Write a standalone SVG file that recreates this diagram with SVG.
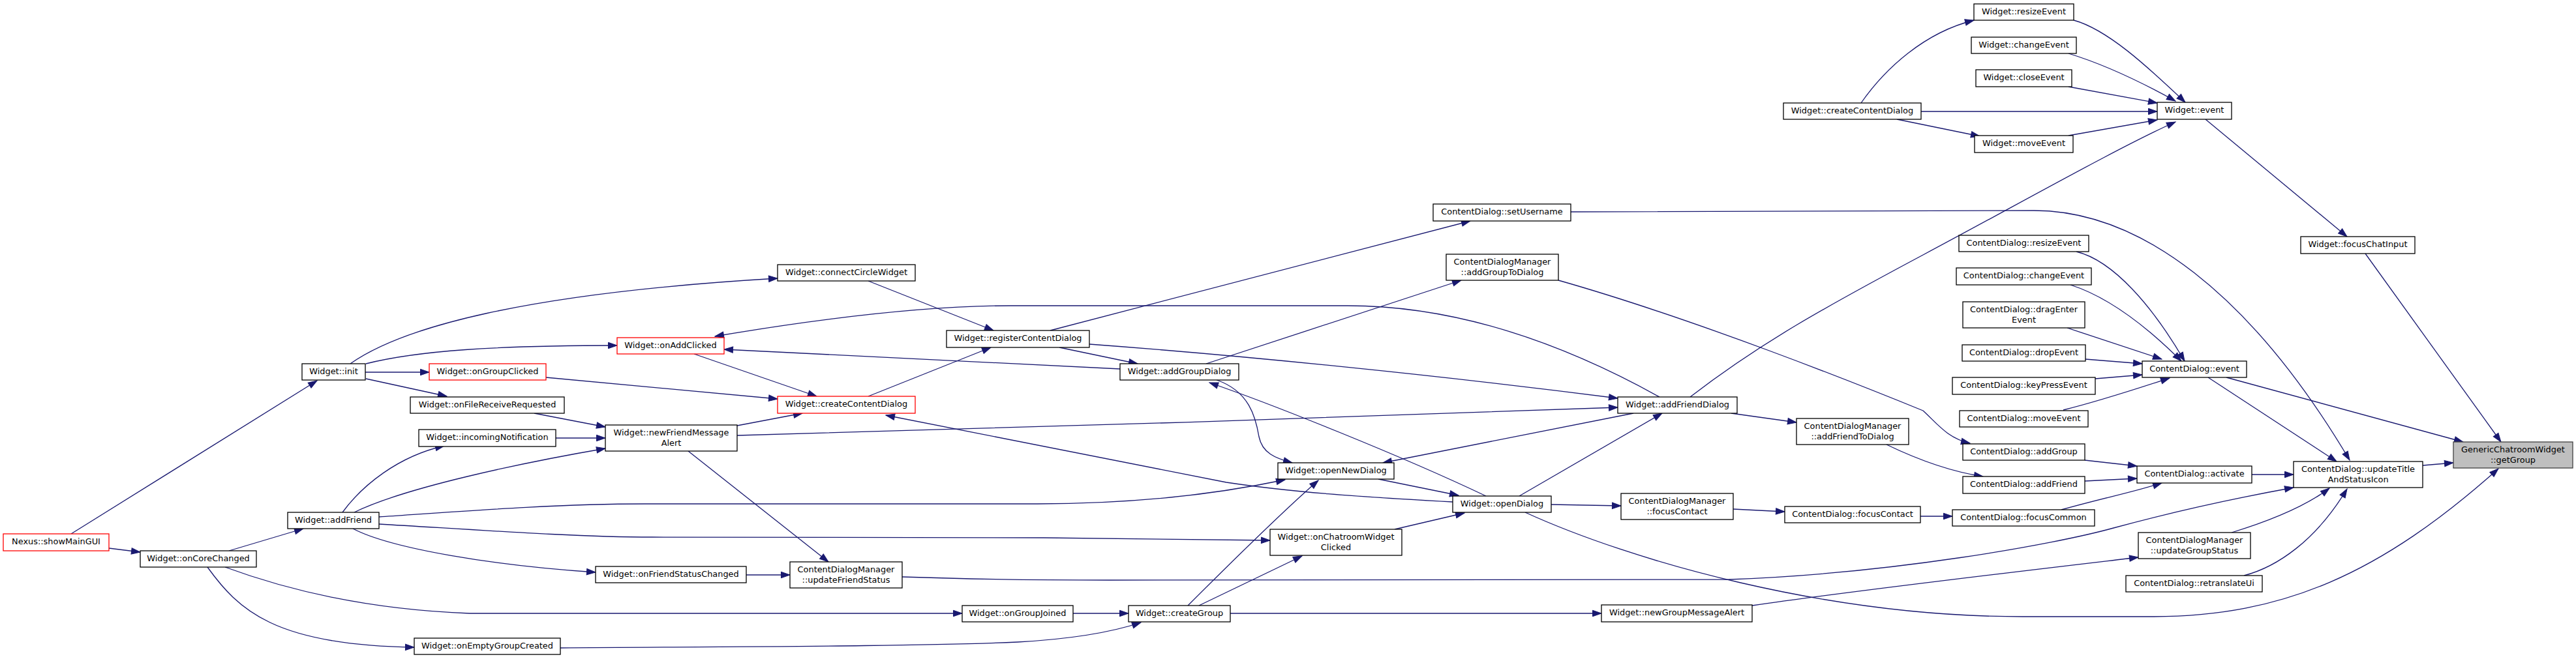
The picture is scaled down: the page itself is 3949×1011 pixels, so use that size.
<svg xmlns="http://www.w3.org/2000/svg" width="3949" height="1011" viewBox="0 0 3949 1011">
<style>
.node rect{fill:#ffffff;stroke:#000000;stroke-width:1.3}
.node.red rect{stroke:#ff0000}
.node.root rect{fill:#bfbfbf;stroke:#404040}
.node text{font-family:"DejaVu Sans","Liberation Sans",sans-serif;font-size:12.9px;text-anchor:middle;fill:#000000}
#edges path{fill:none;stroke:#191970;stroke-width:1.3;marker-end:url(#ah)}
</style>
<defs>
<marker id="ah" markerUnits="userSpaceOnUse" markerWidth="15" markerHeight="11" refX="13.5" refY="4.7" orient="auto" overflow="visible">
<path d="M0,0 L13.5,4.7 L0,9.4 z" fill="#191970" stroke="#191970" stroke-width="1"/>
</marker>
</defs>
<rect x="0" y="0" width="3949" height="1011" fill="#ffffff"/>
<g id="edges">
<path d="M109,819 L486,584"/>
<path d="M167,841 L215,847"/>
<path d="M351,845 L465,811"/>
<path d="M345,870 C440,905 560,935 720,941 L1475,941"/>
<path d="M318,870 C365,935 420,990 635,993"/>
<path d="M525,786 C555,745 610,700 681,684"/>
<path d="M543,786 C620,748 800,710 928,688"/>
<path d="M581,793 C700,785 850,773 988,773 L1590,773 C1760,773 1880,755 1970,736"/>
<path d="M581,804 C720,812 880,824 1000,824 L1600,825 C1750,826 1880,828 1947,829"/>
<path d="M541,811 C600,842 760,868 913,878"/>
<path d="M537,558 C615,503 800,450 1192,427"/>
<path d="M561,558 C640,538 760,530 946,530"/>
<path d="M560,571 L658,571"/>
<path d="M561,581 L685,608"/>
<path d="M837,579 L1192,612"/>
<path d="M1064,543 L1252,608"/>
<path d="M819,634 L928,655"/>
<path d="M852,672 L928,672"/>
<path d="M1130,653 L1230,634"/>
<path d="M1130,668 C1500,658 2100,640 2480,625"/>
<path d="M1055,692 L1270,862"/>
<path d="M1144,882 L1211,882"/>
<path d="M1383,885 C1500,889 1600,890 1700,890 L2650,889 C2900,880 3150,835 3240,810 C3350,780 3450,760 3516,748"/>
<path d="M1645,941 L1730,941"/>
<path d="M859,994 C1100,992 1400,992 1560,985 C1650,980 1710,968 1749,955"/>
<path d="M1331,431 L1523,507"/>
<path d="M1331,608 L1519,533"/>
<path d="M1610,507 L2254,339"/>
<path d="M1624,533 L1744,558"/>
<path d="M1670,528 C1900,545 2200,575 2480,611"/>
<path d="M1717,566 L1110,536"/>
<path d="M1849,558 L2240,430"/>
<path d="M1865,583 C1915,600 1925,640 1930,670 C1935,695 1955,703 1981,710"/>
<path d="M2278,761 C2150,700 1950,620 1854,587"/>
<path d="M2227,770 C2080,762 1980,755 1880,740 L1358,637"/>
<path d="M2378,774 L2485,776"/>
<path d="M2329,761 L2548,634"/>
<path d="M2338,786 C2500,860 2800,946 3100,946 L3300,946 C3500,946 3650,880 3830,719"/>
<path d="M2138,812 L2245,787"/>
<path d="M2113,735 L2236,760"/>
<path d="M1821,929 C1870,880 1960,790 2021,737"/>
<path d="M1838,929 L1996,853"/>
<path d="M1886,941 L2455,941"/>
<path d="M2544,609 C2420,540 2250,469 2066,469 L1550,469 C1420,469 1250,490 1096,516"/>
<path d="M2504,634 L2120,710"/>
<path d="M2654,634 L2754,648"/>
<path d="M2591,609 C2700,525 2800,470 2950,390 C3100,310 3250,225 3335,187"/>
<path d="M2408,325 L3118,323 C3280,323 3450,450 3602,706"/>
<path d="M3381,183 L3598,363"/>
<path d="M3626,389 L3834,678"/>
<path d="M3413,579 L3776,678"/>
<path d="M3385,579 L3582,708"/>
<path d="M3714,714 L3761,710"/>
<path d="M3452,728 L3516,728"/>
<path d="M3421,817 C3470,802 3530,780 3571,749"/>
<path d="M3440,883 C3490,870 3550,830 3598,750"/>
<path d="M3196,706 L3276,715"/>
<path d="M3196,738 L3276,734"/>
<path d="M3160,782 C3220,765 3270,755 3314,741"/>
<path d="M2686,929 C2850,905 3100,876 3278,855"/>
<path d="M2389,430 C2600,490 2850,590 2948,630 C2970,650 2985,672 3020,680"/>
<path d="M2892,682 C2950,710 3000,725 3040,731"/>
<path d="M2657,781 L2736,785"/>
<path d="M2944,792 L2993,792"/>
<path d="M3183,386 C3240,400 3300,470 3349,554"/>
<path d="M3174,437 C3230,455 3290,500 3344,554"/>
<path d="M3169,503 L3314,551"/>
<path d="M3197,551 L3284,558"/>
<path d="M3212,581 L3284,575"/>
<path d="M3163,629 C3220,615 3280,595 3326,580"/>
<path d="M3179,31 C3230,45 3290,100 3350,157"/>
<path d="M3171,82 C3230,100 3290,130 3335,155"/>
<path d="M3171,133 L3307,158"/>
<path d="M2945,171 L3307,171"/>
<path d="M3171,208 L3307,184"/>
<path d="M2853,158 C2890,105 2950,50 3026,31"/>
<path d="M2908,183 L3035,209"/>
</g>
<g id="n_getGroup" class="node root"><rect x="3761" y="678" width="183" height="40"/><text x="3852.5" y="694">GenericChatroomWidget</text><text x="3852.5" y="709.5">::getGroup</text></g>
<g id="n_focusChatInput" class="node"><rect x="3527" y="363" width="175" height="26"/><text x="3614.5" y="379">Widget::focusChatInput</text></g>
<g id="n_cdEvent" class="node"><rect x="3284" y="554" width="160" height="25"/><text x="3364" y="569.5">ContentDialog::event</text></g>
<g id="n_updateTitle" class="node"><rect x="3516" y="708" width="198" height="40"/><text x="3615" y="724">ContentDialog::updateTitle</text><text x="3615" y="739.5">AndStatusIcon</text></g>
<g id="n_activate" class="node"><rect x="3276" y="715" width="176" height="26"/><text x="3364" y="731">ContentDialog::activate</text></g>
<g id="n_updateGroupStatus" class="node"><rect x="3278" y="817" width="172" height="40"/><text x="3364" y="833">ContentDialogManager</text><text x="3364" y="848.5">::updateGroupStatus</text></g>
<g id="n_retranslateUi" class="node"><rect x="3259" y="883" width="209" height="25"/><text x="3363.5" y="898.5">ContentDialog::retranslateUi</text></g>
<g id="n_wEvent" class="node"><rect x="3307" y="157" width="114" height="26"/><text x="3364" y="173">Widget::event</text></g>
<g id="n_wResizeEvent" class="node"><rect x="3026" y="6" width="153" height="25"/><text x="3102.5" y="21.5">Widget::resizeEvent</text></g>
<g id="n_wChangeEvent" class="node"><rect x="3022" y="57" width="161" height="25"/><text x="3102.5" y="72.5">Widget::changeEvent</text></g>
<g id="n_wCloseEvent" class="node"><rect x="3029" y="107" width="147" height="26"/><text x="3102.5" y="123">Widget::closeEvent</text></g>
<g id="n_wCreateContentDialog2" class="node"><rect x="2734" y="158" width="211" height="25"/><text x="2839.5" y="173.5">Widget::createContentDialog</text></g>
<g id="n_wMoveEvent" class="node"><rect x="3027" y="208" width="151" height="26"/><text x="3102.5" y="224">Widget::moveEvent</text></g>
<g id="n_cdResizeEvent" class="node"><rect x="3003" y="361" width="199" height="25"/><text x="3102.5" y="376.5">ContentDialog::resizeEvent</text></g>
<g id="n_cdChangeEvent" class="node"><rect x="2999" y="411" width="207" height="26"/><text x="3102.5" y="427">ContentDialog::changeEvent</text></g>
<g id="n_cdDragEnterEvent" class="node"><rect x="3009" y="463" width="187" height="40"/><text x="3102.5" y="479">ContentDialog::dragEnter</text><text x="3102.5" y="494.5">Event</text></g>
<g id="n_cdDropEvent" class="node"><rect x="3008" y="529" width="189" height="25"/><text x="3102.5" y="544.5">ContentDialog::dropEvent</text></g>
<g id="n_cdKeyPressEvent" class="node"><rect x="2993" y="579" width="219" height="26"/><text x="3102.5" y="595">ContentDialog::keyPressEvent</text></g>
<g id="n_cdMoveEvent" class="node"><rect x="3004" y="630" width="197" height="25"/><text x="3102.5" y="645.5">ContentDialog::moveEvent</text></g>
<g id="n_cdAddGroup" class="node"><rect x="3009" y="681" width="187" height="25"/><text x="3102.5" y="696.5">ContentDialog::addGroup</text></g>
<g id="n_cdAddFriend" class="node"><rect x="3009" y="731" width="187" height="26"/><text x="3102.5" y="747">ContentDialog::addFriend</text></g>
<g id="n_cdFocusCommon" class="node"><rect x="2993" y="782" width="218" height="25"/><text x="3102" y="797.5">ContentDialog::focusCommon</text></g>
<g id="n_cdFocusContact" class="node"><rect x="2736" y="777" width="208" height="25"/><text x="2840" y="792.5">ContentDialog::focusContact</text></g>
<g id="n_cdmAddFriendToDialog" class="node"><rect x="2754" y="642" width="172" height="40"/><text x="2840" y="658">ContentDialogManager</text><text x="2840" y="673.5">::addFriendToDialog</text></g>
<g id="n_cdmFocusContact" class="node"><rect x="2485" y="757" width="172" height="40"/><text x="2571" y="773">ContentDialogManager</text><text x="2571" y="788.5">::focusContact</text></g>
<g id="n_newGroupMessageAlert" class="node"><rect x="2455" y="928" width="231" height="26"/><text x="2570.5" y="944">Widget::newGroupMessageAlert</text></g>
<g id="n_addFriendDialog" class="node"><rect x="2480" y="609" width="183" height="25"/><text x="2571.5" y="624.5">Widget::addFriendDialog</text></g>
<g id="n_setUsername" class="node"><rect x="2197" y="313" width="211" height="26"/><text x="2302.5" y="329">ContentDialog::setUsername</text></g>
<g id="n_cdmAddGroupToDialog" class="node"><rect x="2217" y="390" width="172" height="40"/><text x="2303" y="406">ContentDialogManager</text><text x="2303" y="421.5">::addGroupToDialog</text></g>
<g id="n_openDialog" class="node"><rect x="2227" y="761" width="151" height="25"/><text x="2302.5" y="776.5">Widget::openDialog</text></g>
<g id="n_openNewDialog" class="node"><rect x="1959" y="710" width="178" height="25"/><text x="2048" y="725.5">Widget::openNewDialog</text></g>
<g id="n_onChatroomWidgetClicked" class="node"><rect x="1947" y="812" width="202" height="40"/><text x="2048" y="828">Widget::onChatroomWidget</text><text x="2048" y="843.5">Clicked</text></g>
<g id="n_addGroupDialog" class="node"><rect x="1717" y="558" width="182" height="25"/><text x="1808" y="573.5">Widget::addGroupDialog</text></g>
<g id="n_registerContentDialog" class="node"><rect x="1451" y="507" width="219" height="26"/><text x="1560.5" y="523">Widget::registerContentDialog</text></g>
<g id="n_createGroup" class="node"><rect x="1730" y="929" width="156" height="25"/><text x="1808" y="944.5">Widget::createGroup</text></g>
<g id="n_onGroupJoined" class="node"><rect x="1475" y="929" width="170" height="25"/><text x="1560" y="944.5">Widget::onGroupJoined</text></g>
<g id="n_connectCircleWidget" class="node"><rect x="1192" y="406" width="211" height="25"/><text x="1297.5" y="421.5">Widget::connectCircleWidget</text></g>
<g id="n_createContentDialog" class="node red"><rect x="1192" y="608" width="211" height="26"/><text x="1297.5" y="624">Widget::createContentDialog</text></g>
<g id="n_cdmUpdateFriendStatus" class="node"><rect x="1211" y="862" width="172" height="40"/><text x="1297" y="878">ContentDialogManager</text><text x="1297" y="893.5">::updateFriendStatus</text></g>
<g id="n_onAddClicked" class="node red"><rect x="946" y="518" width="164" height="25"/><text x="1028" y="533.5">Widget::onAddClicked</text></g>
<g id="n_newFriendMessageAlert" class="node"><rect x="928" y="652" width="202" height="40"/><text x="1029" y="668">Widget::newFriendMessage</text><text x="1029" y="683.5">Alert</text></g>
<g id="n_onFriendStatusChanged" class="node"><rect x="913" y="869" width="231" height="25"/><text x="1028.5" y="884.5">Widget::onFriendStatusChanged</text></g>
<g id="n_onGroupClicked" class="node red"><rect x="658" y="558" width="179" height="25"/><text x="747.5" y="573.5">Widget::onGroupClicked</text></g>
<g id="n_onFileReceiveRequested" class="node"><rect x="629" y="609" width="236" height="25"/><text x="747" y="624.5">Widget::onFileReceiveRequested</text></g>
<g id="n_incomingNotification" class="node"><rect x="642" y="659" width="210" height="26"/><text x="747" y="675">Widget::incomingNotification</text></g>
<g id="n_onEmptyGroupCreated" class="node"><rect x="635" y="979" width="224" height="25"/><text x="747" y="994.5">Widget::onEmptyGroupCreated</text></g>
<g id="n_init" class="node"><rect x="463" y="558" width="97" height="25"/><text x="511.5" y="573.5">Widget::init</text></g>
<g id="n_addFriend" class="node"><rect x="441" y="786" width="140" height="25"/><text x="511" y="801.5">Widget::addFriend</text></g>
<g id="n_onCoreChanged" class="node"><rect x="215" y="845" width="178" height="25"/><text x="304" y="860.5">Widget::onCoreChanged</text></g>
<g id="n_showMainGUI" class="node red"><rect x="5" y="819" width="162" height="26"/><text x="86" y="835">Nexus::showMainGUI</text></g>
</svg>
